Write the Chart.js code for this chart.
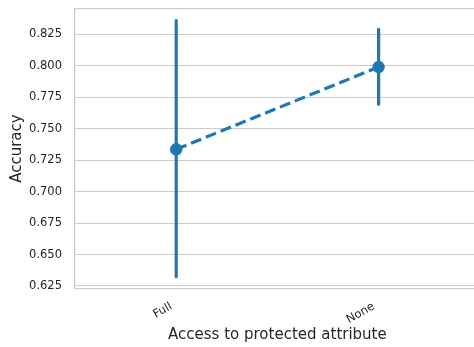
<!DOCTYPE html>
<html>
<head>
<meta charset="utf-8">
<script src="https://cdn.jsdelivr.net/npm/chart.js@4/dist/chart.umd.min.js"></script>
<style>
  html, body { margin: 0; padding: 0; background: #ffffff; overflow: hidden; width: 474px; height: 347px; }
  #wrap { position: relative; width: 474px; height: 347px; overflow: hidden; }
  #chart { position: absolute; left: 0; top: 0; display: block; width: 486px; height: 347px; }
</style>
</head>
<body>
<div id="wrap"><canvas id="chart" width="486" height="347"></canvas></div>
<script>
// Accuracy by access to the protected attribute (mean with confidence interval)
const categories = ['Full', 'None'];
const meanAccuracy = [0.7336, 0.7990];
const ciLower = [0.6324, 0.7694];
const ciUpper = [0.8358, 0.8290];
const yTickValues = [0.625, 0.650, 0.675, 0.700, 0.725, 0.750, 0.775, 0.800, 0.825];

const BLUE = '#1f77b4';
const GRID = '#cccccc';
const TEXT = '#262626';

Chart.defaults.font.family = "'DejaVu Sans', 'Liberation Sans', sans-serif";
Chart.defaults.color = TEXT;

// mean line (dashed, with markers)
const meanData = categories.map((c, i) => ({ x: i, y: meanAccuracy[i] }));

// one vertical segment per category for the interval
const ciDatasets = categories.map((c, i) => ({
  type: 'line',
  data: [{ x: i, y: ciLower[i] }, { x: i, y: ciUpper[i] }],
  borderColor: BLUE,
  borderWidth: 3.2,
  borderCapStyle: 'round',
  pointRadius: 0,
  pointHoverRadius: 0,
  order: 2
}));

// top frame line of the axes
const topSpine = {
  id: 'topSpine',
  afterDraw(chart) {
    const { ctx, chartArea } = chart;
    ctx.save();
    ctx.strokeStyle = GRID;
    ctx.lineWidth = 1.25;
    ctx.beginPath();
    ctx.moveTo(chartArea.left, chartArea.top);
    ctx.lineTo(chartArea.right, chartArea.top);
    ctx.stroke();
    ctx.restore();
  }
};

new Chart(document.getElementById('chart'), {
  type: 'line',
  data: {
    datasets: [
      {
        data: meanData,
        borderColor: BLUE,
        backgroundColor: BLUE,
        borderWidth: 3.2,
        borderDash: [11, 5],
        pointRadius: 6.2,
        pointBorderWidth: 0,
        pointBackgroundColor: BLUE,
        pointHoverRadius: 6.2,
        order: 1
      },
      ...ciDatasets
    ]
  },
  options: {
    responsive: false,
    animation: false,
    devicePixelRatio: 1,
    layout: { padding: { top: 8.5, right: 0, bottom: 0, left: 0 } },
    plugins: {
      legend: { display: false },
      tooltip: { enabled: false }
    },
    scales: {
      x: {
        type: 'linear',
        min: -0.5,
        max: 1.5,
        afterBuildTicks(scale) {
          scale.ticks = categories.map((c, i) => ({ value: i }));
        },
        afterFit(scale) {
          scale.height = 58.3;
          scale.paddingLeft = 0;
          scale.paddingRight = 0;
        },
        grid: { display: false, drawTicks: false },
        border: { display: true, color: GRID, width: 1.25 },
        ticks: {
          autoSkip: false,
          minRotation: 30,
          maxRotation: 30,
          padding: 11,
          labelOffset: -5,
          font: { size: 11.5 },
          color: TEXT,
          callback: (v) => categories[v] ?? ''
        },
        title: {
          display: true,
          text: 'Access to protected attribute',
          font: { size: 15 },
          color: TEXT,
          padding: { top: 0, bottom: 2.5 }
        }
      },
      y: {
        type: 'linear',
        min: 0.62285,
        max: 0.8455,
        afterBuildTicks(scale) {
          scale.ticks = yTickValues.map(v => ({ value: v }));
        },
        afterFit(scale) {
          scale.width = 75;
          scale.paddingTop = 0;
          scale.paddingBottom = 0;
        },
        grid: { color: GRID, lineWidth: 1, drawTicks: false },
        border: { display: true, color: GRID, width: 1.25 },
        ticks: {
          padding: 13,
          font: { size: 11.5 },
          color: TEXT,
          callback: (v) => Number(v).toFixed(3)
        },
        title: {
          display: true,
          text: 'Accuracy',
          font: { size: 15 },
          color: TEXT,
          padding: { top: 8, bottom: 0 }
        }
      }
    }
  },
  plugins: [topSpine]
});
</script>
</body>
</html>
